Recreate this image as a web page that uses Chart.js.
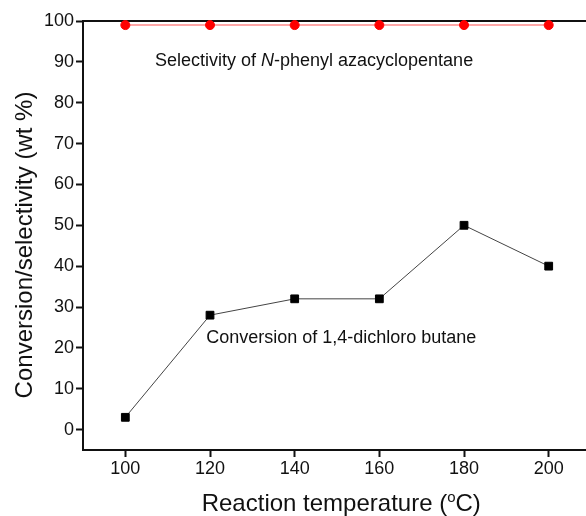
<!DOCTYPE html>
<html>
<head>
<meta charset="utf-8">
<script src="https://cdn.jsdelivr.net/npm/chart.js@4.4.1/dist/chart.umd.min.js"></script>
<style>
  html, body { margin: 0; padding: 0; background: #fff; overflow: hidden; }
  #wrap { width: 606px; height: 516px; }
</style>
</head>
<body>
<div id="wrap"><canvas id="c" width="606" height="516"></canvas></div>
<script>
// Reaction temperatures (°C)
const temperatures = [100, 120, 140, 160, 180, 200];
// Conversion of 1,4-dichloro butane (wt %)
const conversion = [3, 28, 32, 32, 50, 40];
// Selectivity of N-phenyl azacyclopentane (wt %)
const selectivity = [99, 99, 99, 99, 99, 99];
// Axis tick values
const xTicks = [100, 120, 140, 160, 180, 200];
const yTicks = [0, 10, 20, 30, 40, 50, 60, 70, 80, 90, 100];

const FONT = '"Liberation Sans", Arial, Helvetica, sans-serif';
const INK = '#111';

// In-plot labels, anchored in data coordinates
const curveLabels = [
  { x: 107.0, y: 89.0, parts: [['Selectivity of ', 'normal'], ['N', 'italic'], ['-phenyl azacyclopentane', 'normal']] },
  { x: 119.1, y: 21.3, parts: [['Conversion of 1,4-dichloro butane', 'normal']] }
];

const decorations = {
  id: 'decorations',
  beforeDatasetsDraw(chart) {
    const { ctx, chartArea, scales: { x, y } } = chart;
    // frame line along the top at 100 %
    ctx.save();
    ctx.strokeStyle = INK;
    ctx.lineWidth = 2;
    const yTop = Math.round(y.getPixelForValue(100));
    ctx.beginPath();
    ctx.moveTo(chartArea.left - 1, yTop);
    ctx.lineTo(chartArea.right, yTop);
    ctx.stroke();
    ctx.restore();
  },
  afterDatasetsDraw(chart) {
    const { ctx, chartArea, scales: { x, y } } = chart;
    ctx.save();
    ctx.fillStyle = INK;
    ctx.textBaseline = 'alphabetic';
    // curve labels
    curveLabels.forEach(lbl => {
      let px = x.getPixelForValue(lbl.x);
      const py = y.getPixelForValue(lbl.y);
      lbl.parts.forEach(([txt, style]) => {
        ctx.font = (style === 'italic' ? 'italic ' : '') + '18px ' + FONT;
        ctx.textAlign = 'left';
        ctx.fillText(txt, px, py);
        px += ctx.measureText(txt).width;
      });
    });

    // x-axis title with superscript degree mark
    const main1 = 'Reaction temperature (';
    const sup = 'o';
    const main2 = 'C)';
    ctx.font = '24px ' + FONT;
    const w1 = ctx.measureText(main1).width;
    const w3 = ctx.measureText(main2).width;
    ctx.font = '15px ' + FONT;
    const w2 = ctx.measureText(sup).width;
    const total = w1 + w2 + w3;
    const cx = (chartArea.left + chartArea.right) / 2;
    let sx = cx - total / 2;
    const base = 511;
    ctx.textAlign = 'left';
    ctx.font = '24px ' + FONT;
    ctx.fillText(main1, sx, base);
    sx += w1;
    ctx.font = '15px ' + FONT;
    ctx.fillText(sup, sx, base - 9);
    sx += w2;
    ctx.font = '24px ' + FONT;
    ctx.fillText(main2, sx, base);

    // y-axis title
    ctx.translate(25, 245);
    ctx.rotate(-Math.PI / 2);
    ctx.textAlign = 'center';
    ctx.textBaseline = 'middle';
    ctx.font = '24px ' + FONT;
    ctx.fillText('Conversion/selectivity (wt %)', 0, 0);
    ctx.restore();
  }
};

new Chart(document.getElementById('c'), {
  type: 'line',
  data: {
    datasets: [
      {
        label: 'Selectivity',
        data: temperatures.map((t, i) => ({ x: t, y: selectivity[i] })),
        borderColor: '#ff8a8a',
        borderWidth: 1.5,
        backgroundColor: '#ff0000',
        pointBackgroundColor: '#ff0000',
        pointBorderColor: '#ff0000',
        pointStyle: 'circle',
        pointRadius: 4.5,
        pointBorderWidth: 1,
        tension: 0,
        clip: false
      },
      {
        label: 'Conversion',
        data: temperatures.map((t, i) => ({ x: t, y: conversion[i] })),
        borderColor: '#444',
        borderWidth: 1,
        backgroundColor: '#000',
        pointBackgroundColor: '#000',
        pointBorderColor: '#000',
        pointStyle: 'rect',
        pointRadius: 5.5,
        pointBorderWidth: 1,
        tension: 0
      }
    ]
  },
  options: {
    responsive: false,
    animation: false,
    devicePixelRatio: 1,
    layout: { padding: { top: 21, right: 1, left: 0, bottom: 0 } },
    plugins: { legend: { display: false }, tooltip: { enabled: false } },
    scales: {
      x: {
        type: 'linear',
        min: 90,
        max: 212,
        afterBuildTicks: s => { s.ticks = xTicks.map(v => ({ value: v })); },
        afterFit: s => { s.height = 66; },
        border: { display: true, color: INK, width: 2 },
        grid: { drawOnChartArea: false, drawTicks: true, tickLength: 7, tickWidth: 2, tickColor: INK, color: INK },
        ticks: { color: INK, font: { family: FONT, size: 18 }, padding: 1, maxRotation: 0, autoSkip: false }
      },
      y: {
        type: 'linear',
        min: -5,
        max: 100,
        afterBuildTicks: s => { s.ticks = yTicks.map(v => ({ value: v })); },
        afterFit: s => { s.width = 83; },
        border: { display: true, color: INK, width: 2 },
        grid: { drawOnChartArea: false, drawTicks: true, tickLength: 7, tickWidth: 2, tickColor: INK, color: INK },
        ticks: { color: INK, font: { family: FONT, size: 18 }, padding: 2, autoSkip: false }
      }
    }
  },
  plugins: [decorations]
});
</script>
</body>
</html>
